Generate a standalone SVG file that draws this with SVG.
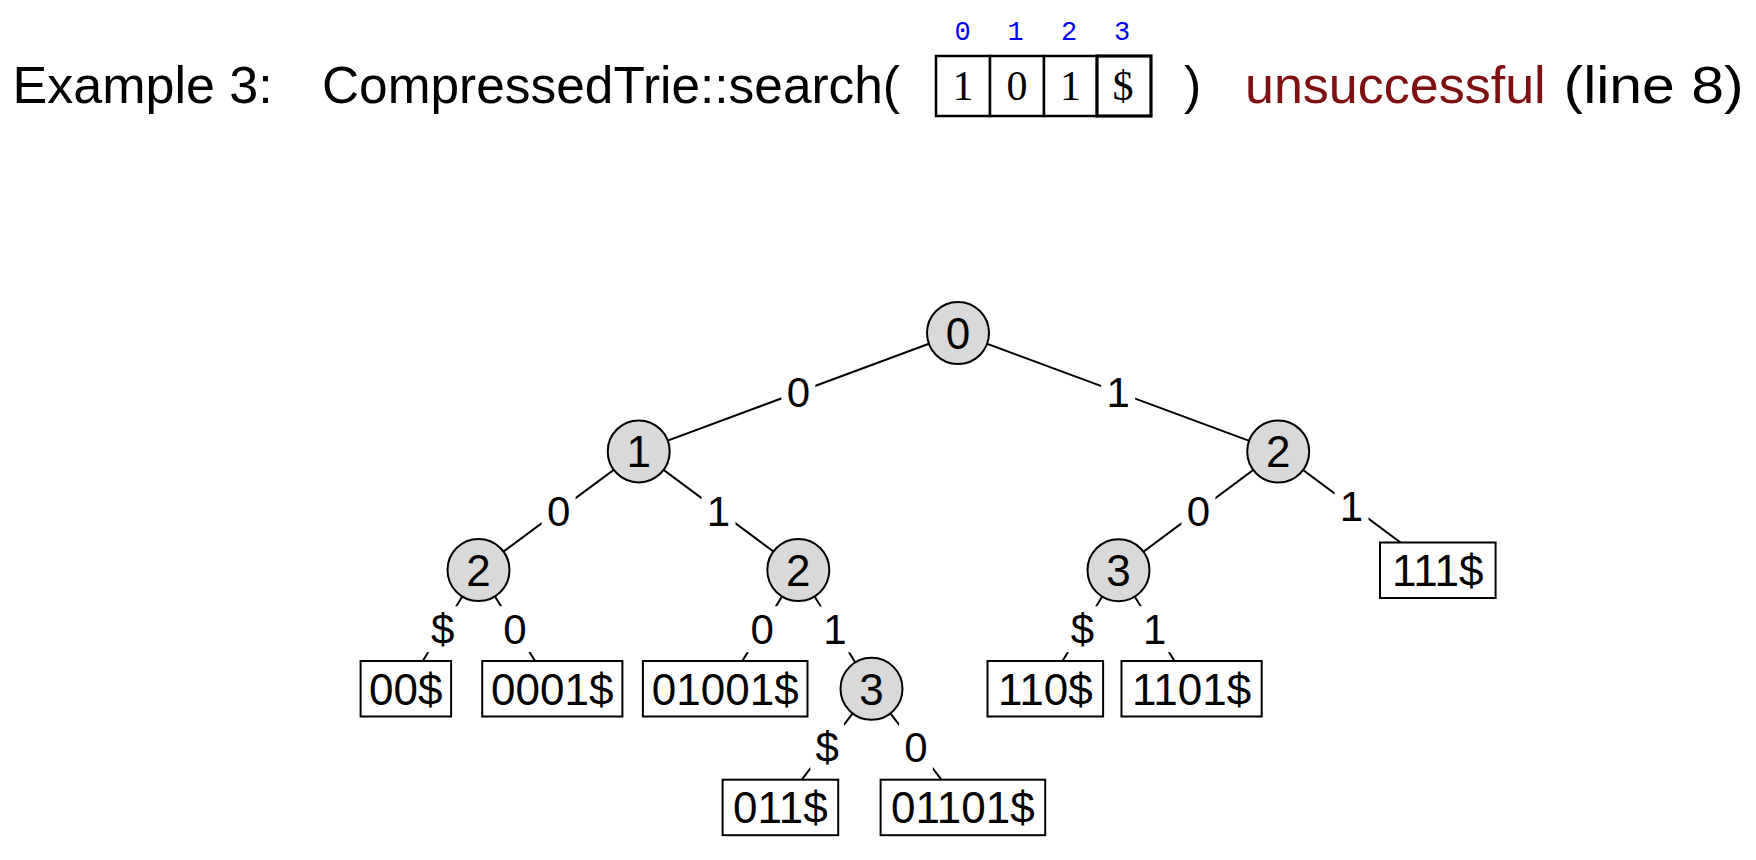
<svg xmlns="http://www.w3.org/2000/svg" width="1756" height="860" viewBox="0 0 1756 860">
<style>
  .title { font-family: "Liberation Sans", Arial, sans-serif; font-size: 52px; fill: #000; }
  .bad { fill: #7f1010; }
  .cell { fill: #fff; stroke: #000; stroke-width: 2.5; }
  .cellhl { fill: #fff; stroke: #000; stroke-width: 3.2; }
  .ctext { font-family: "Liberation Serif", serif; font-size: 42px; text-anchor: middle; fill: #000; }
  .idx { font-family: "Liberation Mono", monospace; font-size: 27px; text-anchor: middle; fill: #0000ff; }
  .edge { stroke: #000; stroke-width: 2; fill: none; }
  .lblbg { fill: #fff; stroke: none; }
  .lbl { font-family: "Liberation Sans", Arial, sans-serif; font-size: 42px; text-anchor: middle; fill: #000; }
  .inode { fill: #d9d9d9; stroke: #000; stroke-width: 2; }
  .leaf { fill: #fff; stroke: #000; stroke-width: 2; }
  .ntext { font-family: "Liberation Sans", Arial, sans-serif; font-size: 44px; text-anchor: middle; fill: #000; }
</style>

<g id="title">
  <text class="title" x="12.6" y="102.7">Example 3:</text>
  <text class="title" x="322" y="102.7" textLength="578" lengthAdjust="spacingAndGlyphs">CompressedTrie::search(</text>
  <text class="title" x="1184" y="102.7">)</text>
  <text class="title bad" x="1245" y="102.7">unsuccessful</text>
  <text class="title" x="1563.6" y="102.7" textLength="180" lengthAdjust="spacingAndGlyphs">(line 8)</text>
</g>

<g id="array">
  <rect class="cell" x="936" y="56" width="54" height="60"/>
  <rect class="cell" x="990" y="56" width="54" height="60"/>
  <rect class="cell" x="1044" y="56" width="53" height="60"/>
  <rect class="cellhl" x="1097" y="56" width="54" height="60"/>
  <text class="ctext" x="963" y="100">1</text>
  <text class="ctext" x="1017" y="100">0</text>
  <text class="ctext" x="1070.5" y="100">1</text>
  <text class="ctext" x="1123" y="100">$</text>
  <text class="idx" x="962.5" y="39.5">0</text>
  <text class="idx" x="1015.5" y="39.5">1</text>
  <text class="idx" x="1069" y="39.5">2</text>
  <text class="idx" x="1122" y="39.5">3</text>
</g>

<g id="connectors">
  <line class="edge" x1="958" y1="333" x2="638.7" y2="451.4"/>
  <line class="edge" x1="958" y1="333" x2="1278.2" y2="451.5"/>
  <line class="edge" x1="638.7" y1="451.4" x2="478.5" y2="570"/>
  <line class="edge" x1="638.7" y1="451.4" x2="798.3" y2="570"/>
  <line class="edge" x1="1278.2" y1="451.5" x2="1118.5" y2="570.2"/>
  <line class="edge" x1="1278.2" y1="451.5" x2="1437.8" y2="570.2"/>
  <line class="edge" x1="478.5" y1="570" x2="405.8" y2="688.8"/>
  <line class="edge" x1="478.5" y1="570" x2="552.3" y2="688.8"/>
  <line class="edge" x1="798.3" y1="570" x2="725.2" y2="688.8"/>
  <line class="edge" x1="798.3" y1="570" x2="871.5" y2="688.8"/>
  <line class="edge" x1="1118.5" y1="570.2" x2="1045.3" y2="688.8"/>
  <line class="edge" x1="1118.5" y1="570.2" x2="1191.6" y2="688.8"/>
  <line class="edge" x1="871.5" y1="688.8" x2="780.4" y2="807.5"/>
  <line class="edge" x1="871.5" y1="688.8" x2="962.9" y2="807.5"/>

  <rect class="lblbg" x="781.4" y="370.2" width="34" height="44"/>
  <rect class="lblbg" x="1101.1" y="370.2" width="34" height="44"/>
  <rect class="lblbg" x="541.6" y="488.7" width="34" height="44"/>
  <rect class="lblbg" x="701.5" y="488.7" width="34" height="44"/>
  <rect class="lblbg" x="1181.4" y="488.8" width="34" height="44"/>
  <rect class="lblbg" x="1334.5" y="484" width="34" height="44"/>
  <rect class="lblbg" x="425.6" y="606.2" width="34" height="46"/>
  <rect class="lblbg" x="497.9" y="606.1" width="34" height="46"/>
  <rect class="lblbg" x="745.2" y="606.2" width="34" height="46"/>
  <rect class="lblbg" x="817.9" y="606.4" width="34" height="46"/>
  <rect class="lblbg" x="1065.4" y="606.2" width="34" height="46"/>
  <rect class="lblbg" x="1137.6" y="606.2" width="34" height="46"/>
  <rect class="lblbg" x="810.2" y="723.5" width="34" height="46"/>
  <rect class="lblbg" x="898.9" y="723.5" width="34" height="46"/>

  <text class="lbl" x="798.4" y="407.2">0</text>
  <text class="lbl" x="1118.1" y="407.2">1</text>
  <text class="lbl" x="558.6" y="525.7">0</text>
  <text class="lbl" x="718.5" y="525.7">1</text>
  <text class="lbl" x="1198.4" y="525.8">0</text>
  <text class="lbl" x="1351.5" y="521">1</text>
  <text class="lbl" x="442.6" y="643.7">$</text>
  <text class="lbl" x="514.9" y="643.6">0</text>
  <text class="lbl" x="762.2" y="643.7">0</text>
  <text class="lbl" x="834.9" y="644.4">1</text>
  <text class="lbl" x="1082.4" y="643.7">$</text>
  <text class="lbl" x="1154.6" y="643.7">1</text>
  <text class="lbl" x="827.2" y="761.5">$</text>
  <text class="lbl" x="915.9" y="761.5">0</text>
</g>

<g id="n-root"><circle class="inode" cx="958" cy="333" r="31"/><text class="ntext" x="958" y="348.8">0</text></g>
<g id="n-0"><circle class="inode" cx="638.7" cy="451.4" r="31"/><text class="ntext" x="638.7" y="467.2">1</text></g>
<g id="n-1"><circle class="inode" cx="1278.2" cy="451.5" r="31"/><text class="ntext" x="1278.2" y="467.3">2</text></g>
<g id="n-00"><circle class="inode" cx="478.5" cy="570" r="31"/><text class="ntext" x="478.5" y="585.8">2</text></g>
<g id="n-01"><circle class="inode" cx="798.3" cy="570" r="31"/><text class="ntext" x="798.3" y="585.8">2</text></g>
<g id="n-11"><circle class="inode" cx="1118.5" cy="570.2" r="31"/><text class="ntext" x="1118.5" y="586">3</text></g>
<g id="n-011"><circle class="inode" cx="871.5" cy="688.8" r="31"/><text class="ntext" x="871.5" y="704.6">3</text></g>

<g id="leaf-111"><rect class="leaf" x="1380" y="542.5" width="115.6" height="55.5"/><text class="ntext" x="1437.8" y="586">111$</text></g>
<g id="leaf-00"><rect class="leaf" x="360.6" y="661" width="90.5" height="55.5"/><text class="ntext" x="405.8" y="704.6">00$</text></g>
<g id="leaf-0001"><rect class="leaf" x="482.2" y="661" width="140.2" height="55.5"/><text class="ntext" x="552.3" y="704.6">0001$</text></g>
<g id="leaf-01001"><rect class="leaf" x="642.9" y="661" width="164.6" height="55.5"/><text class="ntext" x="725.2" y="704.6">01001$</text></g>
<g id="leaf-110"><rect class="leaf" x="987.5" y="661" width="115.6" height="55.5"/><text class="ntext" x="1045.3" y="704.6">110$</text></g>
<g id="leaf-1101"><rect class="leaf" x="1121.5" y="661" width="140.2" height="55.5"/><text class="ntext" x="1191.6" y="704.6">1101$</text></g>
<g id="leaf-011"><rect class="leaf" x="722.6" y="779.7" width="115.6" height="55.5"/><text class="ntext" x="780.4" y="823.3">011$</text></g>
<g id="leaf-01101"><rect class="leaf" x="880.6" y="779.7" width="164.6" height="55.5"/><text class="ntext" x="962.9" y="823.3">01101$</text></g>
</svg>
